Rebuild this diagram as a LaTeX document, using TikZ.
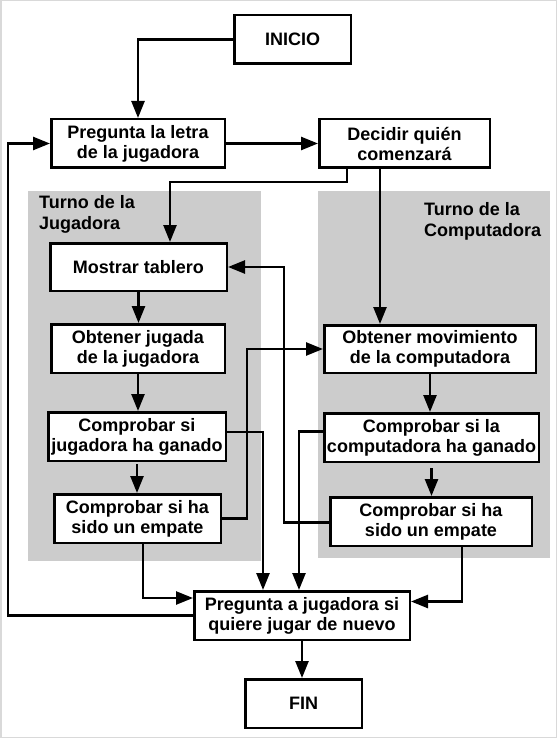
\documentclass[tikz,border=0pt]{standalone}
\usepackage{fontspec}
\setmainfont{Liberation Sans}
\usetikzlibrary{arrows.meta}

\tikzset{
  box/.style={draw, line width=2.5pt, fill=white, align=center, inner sep=0pt,
    font=\bfseries\fontsize{18}{20}\selectfont},
  lane/.style={fill=black!20},
  lanetext/.style={anchor=north west, align=left, inner sep=0pt,
    font=\bfseries\fontsize{18}{21}\selectfont},
  flow/.style={line width=2.5pt, -{Triangle[length=17pt,width=13pt]}}
}

\begin{document}
\begin{tikzpicture}[x=1pt,y=-1pt]
   \useasboundingbox (0,0) rectangle (557,738);
   \draw[black!15, line width=1.5pt] (0.75,0.75) rectangle (556.25,737.25);
   % lanes
   \fill[lane] (28,191) rectangle (261,561);
   \fill[lane] (318,191) rectangle (550,558);
   \node[lanetext] (laneJ) at (39,195) {Turno de la\\Jugadora};
   \node[lanetext] (laneC) at (424,202) {Turno de la\\Computadora};
   % boxes
   \node[box, minimum width=116.5pt, minimum height=48.5pt] (inicio) at (292.5,39.5) {INICIO};
   \node[box, minimum width=173.5pt, minimum height=48.5pt] (letra) at (138,143.5) {Pregunta la letra\\de la jugadora};
   \node[box, minimum width=170.5pt, minimum height=48.5pt] (decidir) at (404.5,143.5) {Decidir quién\\comenzará};
   \node[box, minimum width=176.5pt, minimum height=47.5pt] (tablero) at (138.5,267) {Mostrar tablero};
   \node[box, minimum width=173.5pt, minimum height=48.5pt] (jugada) at (138,348.5) {Obtener jugada\\de la jugadora};
   \node[box, minimum width=177.5pt, minimum height=48.5pt] (ganaJ) at (137,436.5) {Comprobar si\\jugadora ha ganado};
   \node[box, minimum width=166.5pt, minimum height=48.5pt] (empateJ) at (137.5,518.5) {Comprobar si ha\\sido un empate};
   \node[box, minimum width=211.5pt, minimum height=47.5pt] (movim) at (430,349) {Obtener movimiento\\de la computadora};
   \node[box, minimum width=214.5pt, minimum height=48.5pt] (ganaC) at (431.5,437.5) {Comprobar si la\\computadora ha ganado};
   \node[box, minimum width=201.5pt, minimum height=48.5pt] (empateC) at (431,521.5) {Comprobar si ha\\sido un empate};
   \node[box, minimum width=215.5pt, minimum height=48.5pt] (otra) at (302,615.5) {Pregunta a jugadora si\\quiere jugar de nuevo};
   \node[box, minimum width=116.5pt, minimum height=48.5pt] (fin) at (303.5,703.5) {FIN};
   % connectors
   \draw[flow] (inicio.west) -| (letra.north);
   \draw[flow] (letra.east) -- (decidir.west);
   \draw[flow] ([xshift=-57.5pt]decidir.south) -- ++(0,13) -| ([xshift=31.5pt]tablero.north);
   \draw[flow] ([xshift=-24.5pt]decidir.south) -- ([xshift=-24.5pt]decidir.south |- movim.north);
   \draw[flow] (tablero.south) -- (tablero.south |- jugada.north);
   \draw[flow] (jugada.south) -- (jugada.south |- ganaJ.north);
   \draw[flow] ([yshift=-2pt]ganaJ.south) -- (ganaJ.south |- empateJ.north);
   \draw[flow] ([yshift=4.5pt]ganaJ.east) -| ([xshift=-39pt]otra.north);
   \draw[flow] (empateJ.east) -- ++(25,0) |- (movim.west);
   \draw[flow] ([xshift=5.5pt]empateJ.south) |- ([yshift=17.5pt]otra.west);
   \draw[flow] (movim.south) -- (movim.south |- ganaC.north);
   \draw[flow] ([yshift=-5pt]ganaC.south) -- (ganaC.south |- empateC.north);
   \draw[flow] ([yshift=6pt,xshift=3pt]ganaC.west) -| ([xshift=-3pt]otra.north);
   \draw[flow] ([yshift=-1pt]empateC.west) -- ++(-45,0) |- (tablero.east);
   \draw[flow] ([xshift=31pt]empateC.south) |- ([yshift=14pt]otra.east);
   \draw[flow] (otra.west) -- ++(-185,0) |- (letra.west);
   \draw[flow] (otra.south) -- (otra.south |- fin.north);
\end{tikzpicture}
\end{document}
